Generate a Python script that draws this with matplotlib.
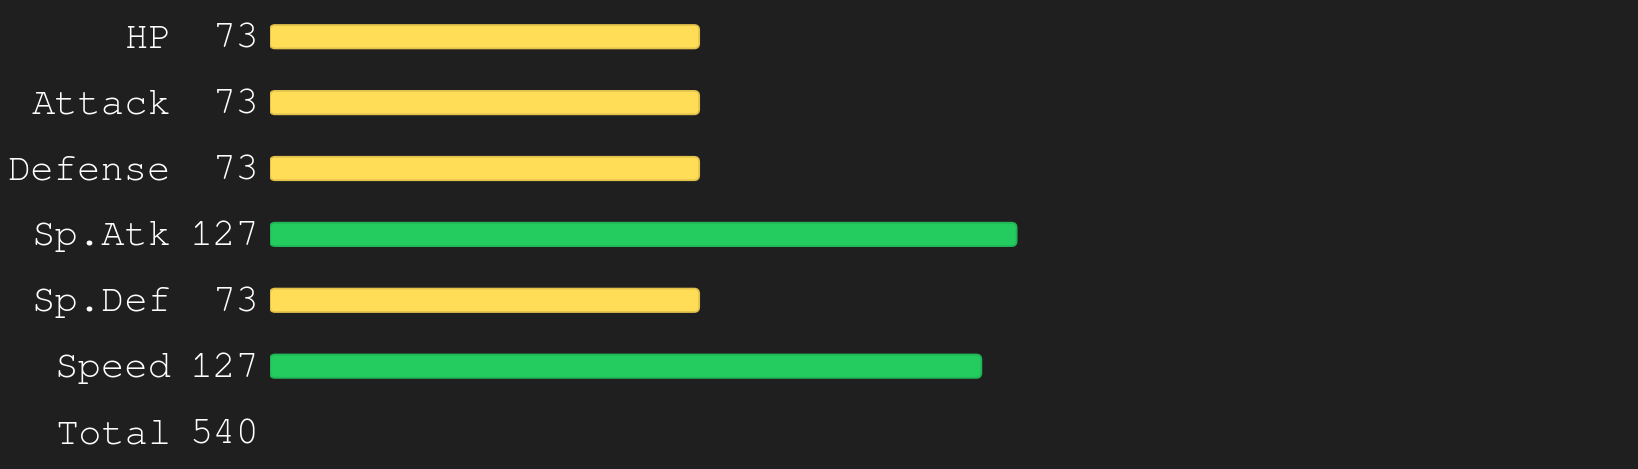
import matplotlib
matplotlib.use("Agg")
from matplotlib import pyplot as plt
from matplotlib.patches import FancyBboxPatch

stats = ["HP", "Attack", "Defense", "Sp.Atk", "Sp.Def", "Speed"]
values = [73, 73, 73, 127, 73, 127]
# bar lengths as drawn in the picture (speed bar is drawn a bit short)
bar_len = [73, 73, 73, 127, 73, 121]
total_label = "Total"
total = 540

yellow = "#ffdd57"
yellow_edge = "#e3c24c"
green = "#24cc5f"
green_edge = "#1fb455"
bg = "#1f1f1f"
font = ["FreeMono", "Liberation Mono"]

fig = plt.figure(figsize=(16.38, 4.69), dpi=100)
fig.patch.set_facecolor(bg)
ax = fig.add_axes([270 / 1638, 0, 1 - 270 / 1638, 1])
ax.set_facecolor(bg)
ax.set_xlim(0, 232.7)
ax.set_ylim(6.56, -0.557)
ax.axis("off")

h = 0.355
for i, (name, v, L) in enumerate(zip(stats, values, bar_len)):
    fc, ec = (green, green_edge) if v >= 100 else (yellow, yellow_edge)
    box = FancyBboxPatch((0, i - h / 2), L, h,
                         boxstyle="round,pad=0,rounding_size=0.85",
                         mutation_aspect=0.089,
                         facecolor=fc, edgecolor=ec, linewidth=1.3)
    ax.add_patch(box)
    ax.text(-16.8, i + 0.168, name, ha="right", va="baseline", color="white",
            family=font, fontsize=28, clip_on=False)
    ax.text(-1.8, i + 0.168, str(v), ha="right", va="baseline", color="white",
            family=font, fontsize=28, clip_on=False)

n = len(stats)
ax.text(-16.8, n + 0.168, total_label, ha="right", va="baseline", color="white",
        family=font, fontsize=28, clip_on=False)
ax.text(-1.8, n + 0.168, str(total), ha="right", va="baseline", color="white",
        family=font, fontsize=28, clip_on=False)

plt.savefig("out.png", dpi=100, facecolor=bg)
